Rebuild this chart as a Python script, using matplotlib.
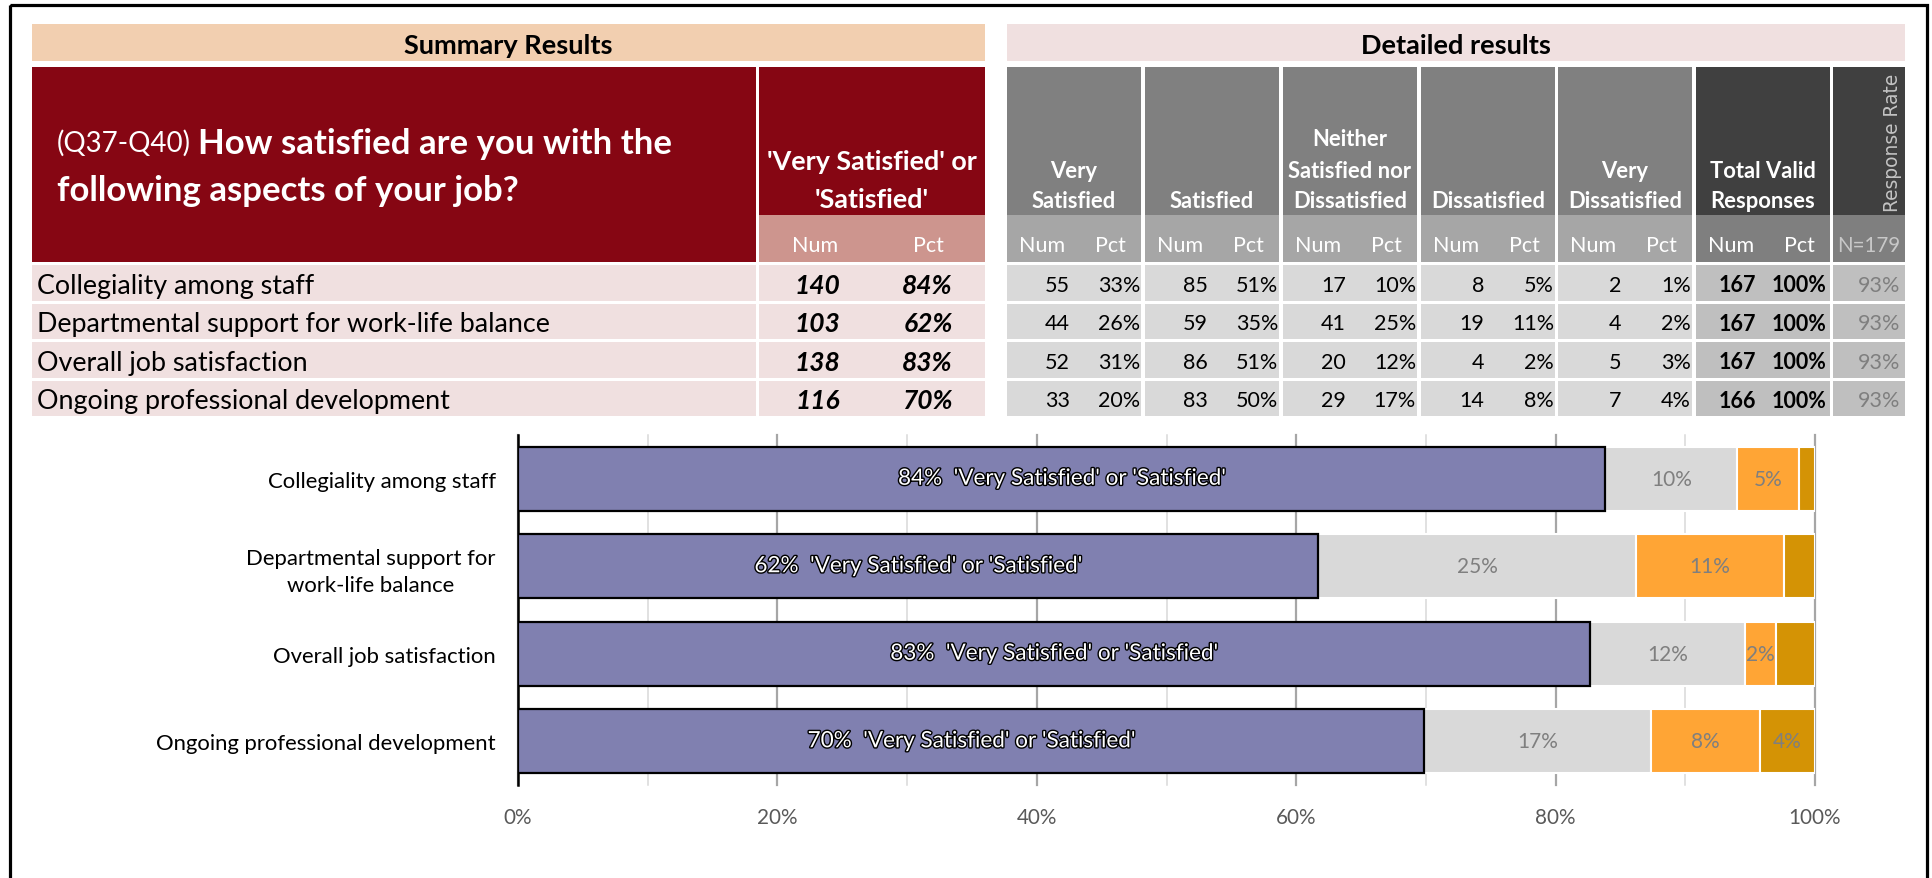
import numpy as np
import matplotlib
matplotlib.use("Agg")
import matplotlib.pyplot as plt
from matplotlib.patches import Rectangle
import matplotlib.patheffects as pe
from matplotlib.ticker import FuncFormatter

plt.rcParams['font.family'] = ['Lato', 'DejaVu Sans']

categories = ["Collegiality among staff",
              "Departmental support for work-life balance",
              "Overall job satisfaction",
              "Ongoing professional development"]
chart_labels = ["Collegiality among staff",
                "Departmental support for\nwork-life balance",
                "Overall job satisfaction",
                "Ongoing professional development"]
top2_n = [140, 103, 138, 116]
top2_p = [84, 62, 83, 70]
very_sat_n = [55, 44, 52, 33]
very_sat_p = [33, 26, 31, 20]
sat_n = [85, 59, 86, 83]
sat_p = [51, 35, 51, 50]
neither_n = [17, 41, 20, 29]
neither_p = [10, 25, 12, 17]
dissat_n = [8, 19, 4, 14]
dissat_p = [5, 11, 2, 8]
vdissat_n = [2, 4, 5, 7]
vdissat_p = [1, 2, 3, 4]
total_n = [167, 167, 167, 166]
total_p = [100, 100, 100, 100]
resp_rate = [93, 93, 93, 93]
n_invited = 179
group_names = ["Very\nSatisfied", "Satisfied", "Neither\nSatisfied nor\nDissatisfied",
               "Dissatisfied", "Very\nDissatisfied"]

W, H = 1933, 879
fig = plt.figure(figsize=(W / 100, H / 100), dpi=100)
bg = fig.add_axes([0, 0, 1, 1])
bg.set_xlim(0, W)
bg.set_ylim(H, 0)
bg.axis('off')


def box(x0, y0, x1, y1, color):
    bg.add_patch(Rectangle((x0, y0), x1 - x0, y1 - y0, facecolor=color, edgecolor='none'))


def txt(x, y, s, size, color='black', ha='center', weight='normal', style='normal', **kw):
    return bg.text(x, y, s, fontsize=size, color=color, ha=ha, va='center_baseline',
                   fontweight=weight, fontstyle=style, **kw)


# outer frame
bg.add_patch(Rectangle((10, 6), 1917, 950, fill=False, edgecolor='black', lw=2.3))

# section bands
box(32, 25, 985, 62, '#f2cfb0')
txt(508, 44, 'Summary Results', 19.5, weight='bold')
box(1007, 25, 1905, 62, '#f0e0e0')
txt(1456, 44, 'Detailed results', 19.5, weight='bold')

# summary header
red = '#860613'
box(32, 68, 756, 263, red)
q = txt(57, 141, '(Q37-Q40)', 20, color='white', ha='left')
bg.annotate('How satisfied are you with the', xy=(1, 141), xycoords=(q, 'data'),
            xytext=(5, 0), textcoords='offset points', fontsize=25, color='white',
            fontweight='bold', ha='left', va='center_baseline')
txt(57, 188, 'following aspects of your job?', 25, color='white', ha='left', weight='bold')
box(759, 68, 985, 216, red)
box(759, 216, 985, 263, '#cd958e')
txt(872, 160, "'Very Satisfied' or", 19.4, color='white', weight='bold')
txt(872, 198, "'Satisfied'", 19.4, color='white', weight='bold')
txt(815, 244, 'Num', 15.5, color='white')
txt(928, 244, 'Pct', 15.5, color='white')

row_top, row_step, row_h = 266, 38.5, 35.5
for i, name in enumerate(categories):
    y0 = row_top + i * row_step
    yc = y0 + row_h / 2
    box(32, y0, 756, y0 + row_h, '#f0e0e0')
    box(759, y0, 985, y0 + row_h, '#f0e0e0')
    txt(37, yc, name, 19.4, ha='left')
    txt(840, yc, str(top2_n[i]), 19, ha='right', weight='bold', style='italic')
    txt(953, yc, f"{top2_p[i]}%", 19, ha='right', weight='bold', style='italic')

# detailed groups
group_x = [1007, 1145, 1283, 1421, 1558]
group_n = [very_sat_n, sat_n, neither_n, dissat_n, vdissat_n]
group_p = [very_sat_p, sat_p, neither_p, dissat_p, vdissat_p]
for g, x0 in enumerate(group_x):
    x1 = x0 + 134
    box(x0, 68, x1, 216, '#808080')
    box(x0, 216, x1, 263, '#a6a6a6')
    lines = group_names[g].split('\n')
    for k, line in enumerate(reversed(lines)):
        txt((x0 + x1) / 2, 200 - 31 * k, line, 15.8, color='white', weight='bold')
    txt(x0 + 35, 244, 'Num', 15.5, color='white')
    txt(x0 + 103, 244, 'Pct', 15.5, color='white')
    for i in range(len(categories)):
        y0 = row_top + i * row_step
        yc = y0 + row_h / 2
        box(x0, y0, x1, y0 + row_h, '#d9d9d9')
        txt(x0 + 63, yc, str(group_n[g][i]), 15.5, ha='right')
        txt(x0 + 133, yc, f"{group_p[g][i]}%", 15.5, ha='right')

# total valid responses
box(1696, 68, 1830, 216, '#404040')
box(1696, 216, 1830, 263, '#7f7f7f')
txt(1763, 169, 'Total Valid', 15.8, color='white', weight='bold')
txt(1763, 200, 'Responses', 15.8, color='white', weight='bold')
txt(1731, 244, 'Num', 15.5, color='white')
txt(1799, 244, 'Pct', 15.5, color='white')
# response rate
box(1833, 68, 1905, 216, '#404040')
box(1833, 216, 1905, 263, '#7f7f7f')
bg.text(1893, 212, 'Response Rate', fontsize=13.4, color='#c4c4c4', rotation=90,
        ha='center', va='bottom', family='DejaVu Sans')
txt(1869, 244, f"N={n_invited}", 14.8, color='#c8c8c8')
for i in range(len(categories)):
    y0 = row_top + i * row_step
    yc = y0 + row_h / 2
    box(1696, y0, 1830, y0 + row_h, '#bfbfbf')
    box(1833, y0, 1905, y0 + row_h, '#bfbfbf')
    txt(1756, yc, str(total_n[i]), 15.5, ha='right', weight='bold')
    txt(1826, yc, f"{total_p[i]}%", 15.5, ha='right', weight='bold')
    txt(1900, yc, f"{resp_rate[i]}%", 15.5, ha='right', color='#7f7f7f')

# ---- stacked bar chart ----
ax = fig.add_axes([518 / W, 1 - 786 / H, (1815 - 518) / W, (786 - 436) / H])
tot = np.array(total_n, dtype=float)
shares = [np.array(top2_n) / tot, np.array(neither_n) / tot,
          np.array(dissat_n) / tot, np.array(vdissat_n) / tot]
colors = ['#8080b0', '#d9d9d9', '#ffa535', '#d49305']
y = np.arange(len(categories))
left = np.zeros(len(categories))
seg_labels = [None, neither_p, dissat_p, vdissat_p]
for s, (share, col) in enumerate(zip(shares, colors)):
    if s == 0:
        ax.barh(y, share, left=left, height=0.73, color=col, edgecolor='black', lw=1.6, zorder=4)
    else:
        ax.barh(y, share, left=left, height=0.73, color=col, edgecolor='white', lw=1.5, zorder=3)
    for i in range(len(categories)):
        cx = left[i] + share[i] / 2
        if s == 0:
            ax.text(cx, y[i], f"{top2_p[i]}%  'Very Satisfied' or 'Satisfied'", fontsize=16.2,
                    color='white', ha='center', va='center', zorder=5,
                    path_effects=[pe.withStroke(linewidth=2, foreground='black')])
        elif s < 3 or seg_labels[s][i] >= 4:
            ax.text(cx, y[i], f"{seg_labels[s][i]}%", fontsize=15, color='#7f7f7f',
                    ha='center', va='center', zorder=5)
    left = left + share

for v in np.arange(0, 1.01, 0.1):
    major = round(v * 10) % 2 == 0
    ax.axvline(v, color='#a6a6a6' if major else '#d9d9d9', lw=1.6 if major else 1.1,
               zorder=0, clip_on=False)

ax.set_xlim(0, 1)
ax.set_ylim(len(categories) - 0.5, -0.5)
ax.set_xticks(np.arange(0, 1.01, 0.2))
ax.xaxis.set_major_formatter(FuncFormatter(lambda v, p: f"{v * 100:.0f}%"))
ax.set_yticks(y, chart_labels)
for lbl in ax.get_yticklabels():
    lbl.set_multialignment('center')
    lbl.set_linespacing(1.4)
ax.tick_params(axis='x', length=0, pad=16, labelsize=14.9, labelcolor='#595959')
ax.tick_params(axis='y', length=0, pad=16, labelsize=15.9)
for side in ['top', 'right', 'bottom']:
    ax.spines[side].set_visible(False)
ax.spines['left'].set_color('black')
ax.spines['left'].set_linewidth(1.8)
ax.set_facecolor('none')

fig.savefig('out.png', dpi=100)
